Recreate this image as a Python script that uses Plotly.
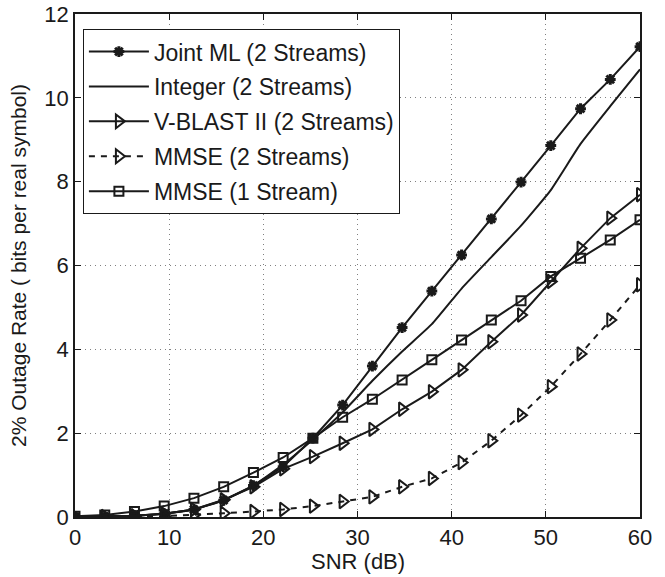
import numpy as np
import plotly.graph_objects as go

snr = np.linspace(0, 60, 20)

joint_ml = [0.0, 0.01, 0.03, 0.08, 0.18, 0.40, 0.75, 1.20, 1.88, 2.67,
            3.60, 4.52, 5.39, 6.25, 7.11, 7.99, 8.86, 9.74, 10.44, 11.22]
integer = [0.0, 0.01, 0.03, 0.08, 0.18, 0.40, 0.75, 1.25, 1.85, 2.50,
           3.25, 3.95, 4.60, 5.45, 6.20, 6.95, 7.80, 8.90, 9.80, 10.68]
vblast = [0.0, 0.01, 0.03, 0.08, 0.18, 0.41, 0.72, 1.15, 1.44, 1.76,
          2.09, 2.57, 2.99, 3.51, 4.18, 4.82, 5.62, 6.41, 7.13, 7.69]
mmse2 = [0.0, 0.0, 0.01, 0.02, 0.05, 0.09, 0.13, 0.18, 0.26, 0.37,
         0.48, 0.72, 0.92, 1.30, 1.82, 2.43, 3.11, 3.89, 4.70, 5.54]
mmse1 = [0.02, 0.05, 0.13, 0.26, 0.45, 0.72, 1.06, 1.42, 1.88, 2.38,
         2.81, 3.27, 3.75, 4.22, 4.70, 5.16, 5.74, 6.17, 6.61, 7.09]

names = ["Joint ML (2 Streams)", "Integer (2 Streams)", "V-BLAST II (2 Streams)",
         "MMSE (2 Streams)", "MMSE (1 Stream)"]

FONT = "Liberation Sans, Arial, sans-serif"
INK = "#1a1a1a"

fig = go.Figure()

fig.add_trace(go.Scatter(
    x=snr, y=joint_ml, name=names[0], mode="lines+markers", legendgroup="a",
    line=dict(color=INK, width=2),
    marker=dict(symbol="asterisk-open", size=9, color=INK, line=dict(width=3, color=INK))
))
fig.add_trace(go.Scatter(
    x=snr, y=integer, name=names[1], mode="lines", legendgroup="b",
    line=dict(color=INK, width=2, shape="spline", smoothing=0.4)
))
fig.add_trace(go.Scatter(
    x=snr, y=vblast, name=names[2], mode="lines+markers", legendgroup="c",
    line=dict(color=INK, width=2),
    marker=dict(symbol="triangle-right-open", size=12, color=INK, line=dict(width=2, color=INK))
))
fig.add_trace(go.Scatter(
    x=snr, y=mmse2, name=names[3], mode="lines+markers", legendgroup="d",
    line=dict(color=INK, width=2, dash="6px,6px"),
    marker=dict(symbol="triangle-right-open", size=12, color=INK, line=dict(width=2, color=INK))
))
fig.add_trace(go.Scatter(
    x=snr, y=mmse1, name=names[4], mode="lines+markers", legendgroup="e",
    line=dict(color=INK, width=2),
    marker=dict(symbol="square-open", size=9, color=INK, line=dict(width=2, color=INK))
))

fig.update_layout(
    width=665, height=577,
    font=dict(family=FONT, size=22, color=INK),
    plot_bgcolor="white",
    paper_bgcolor="white",
    margin=dict(t=14, b=60, l=75, r=25),
    legend=dict(
        x=0.014, y=0.97, xanchor="left", yanchor="top",
        bgcolor="white", bordercolor=INK, borderwidth=1,
        font=dict(family=FONT, size=23, color=INK),
        tracegroupgap=2, itemwidth=60
    ),
    showlegend=True
)

# x title as an annotation so it sits just under the tick labels
fig.add_annotation(
    text="SNR (dB)", xref="paper", yref="paper", x=0.5, y=-59 / 503,
    xanchor="center", yanchor="bottom", showarrow=False,
    font=dict(family=FONT, size=22, color=INK)
)

axis_style = dict(
    showline=True, linecolor=INK, linewidth=1.5, mirror="ticks",
    ticks="inside", ticklen=6, tickcolor=INK,
    showgrid=True, gridcolor="rgba(0,0,0,0.5)", griddash="1px,4px", gridwidth=1,
    zeroline=False, automargin=False,
    tickfont=dict(family=FONT, size=22, color=INK)
)

fig.update_xaxes(range=[0, 60], dtick=10, **axis_style)
fig.update_yaxes(range=[0, 12], dtick=2,
                 title=dict(text="2% Outage Rate ( bits per real symbol)", standoff=12,
                            font=dict(size=21)), **axis_style)

# the page body has a default 8px margin, remove it so the figure fits the window
fig.write_html("out.html", config={"displayModeBar": False},
               post_script="document.body.style.margin='0';")
